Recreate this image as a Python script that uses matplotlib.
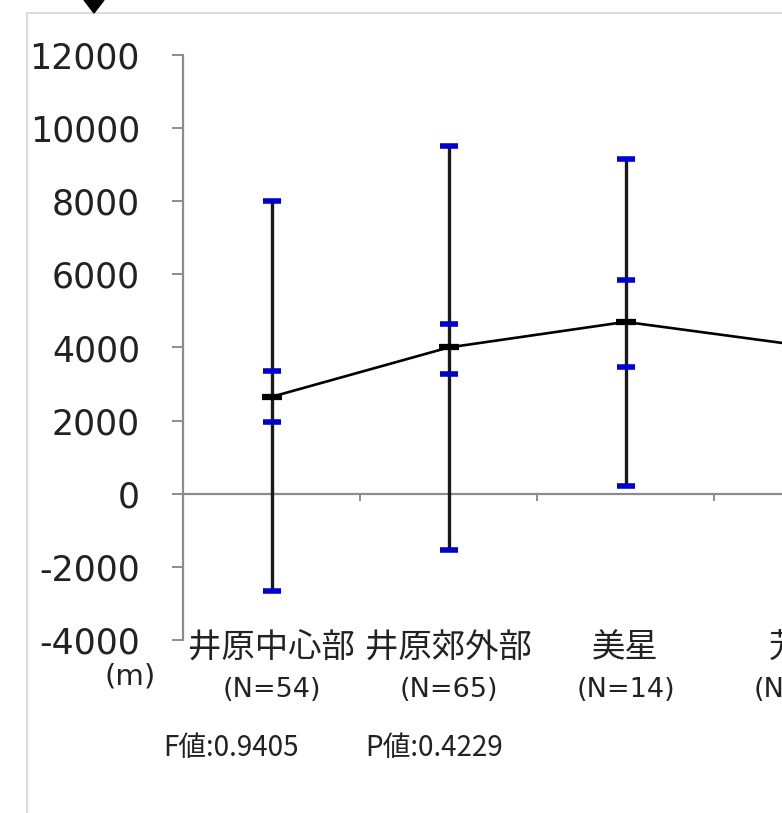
import numpy as np
import matplotlib
matplotlib.use("Agg")
import matplotlib.pyplot as plt
import matplotlib.patches as mpatches

plt.rcParams["axes.unicode_minus"] = False

# ---------------------------------------------------------------------------
# Data
# ---------------------------------------------------------------------------
areas   = ["井原中心部", "井原郊外部", "美星", "芳井"]
n_label = ["(N=54)", "(N=65)", "(N=14)", "(N=20)"]
mean    = [2650, 4000, 4700, 4050]
top     = [8000, 9500, 9150, 7000]
bottom  = [-2650, -1550, 200, 1650]
upper_q = [3370, 4650, 5850, 5050]
lower_q = [1950, 3280, 3480, 3280]
f_text  = "F値:0.9405"
p_text  = "P値:0.4229"
y_ticks = list(range(-4000, 12001, 2000))

W, H = 782, 813
JP = ["Noto Sans CJK JP", "DejaVu Sans"]
GREY = "#8c8c8c"
BLUE = "#0000d0"
TXT = "#222222"

fig = plt.figure(figsize=(W / 100, H / 100), dpi=100)

# screenshot frame + cut-off marker at the top
fig.patches.append(mpatches.Rectangle((27 / W, -0.1), 1.2, 1 - 13 / H + 0.1,
                                      transform=fig.transFigure, fill=False,
                                      edgecolor="#d4d4d4", linewidth=1.2))
fig.patches.append(mpatches.Polygon([(84 / W, 1.0), (104 / W, 1.0), (94 / W, 1 - 13 / H)],
                                    closed=True, transform=fig.transFigure,
                                    facecolor="black", edgecolor="black"))

n_cat = len(areas)
ax = fig.add_axes([183 / W, 1 - 640 / H, 177 * n_cat / W, 585 / H])
x = np.arange(n_cat) + 0.5

# whiskers
ax.vlines(x, bottom, top, color="#1a1a1a", linewidth=2.4, zorder=3)
# blue caps
for vals in (top, bottom, upper_q, lower_q):
    ax.plot(x, vals, linestyle="none", marker="_", markersize=13,
            markeredgewidth=4, color=BLUE, zorder=4)
# mean line + markers
ax.plot(x, mean, color="black", linewidth=1.9, zorder=5)
ax.plot(x, mean, linestyle="none", marker="_", markersize=14,
        markeredgewidth=4.5, color="black", zorder=6)

ax.set_xlim(0, n_cat)
ax.set_ylim(-4000, 12000)

for s in ("top", "right"):
    ax.spines[s].set_visible(False)
ax.spines["left"].set_color(GREY)
ax.spines["left"].set_linewidth(1.6)
ax.spines["bottom"].set_position(("data", 0))
ax.spines["bottom"].set_color(GREY)
ax.spines["bottom"].set_linewidth(1.6)

ax.set_yticks(y_ticks)
ax.set_yticklabels([str(v) for v in y_ticks])
ax.tick_params(axis="y", direction="out", length=8, width=1.4, color=GREY,
               pad=23, labelsize=25, labelcolor=TXT)
ax.set_xticks(np.arange(1, n_cat + 1))
ax.set_xticklabels([])
ax.tick_params(axis="x", direction="out", length=5, width=1.4, color=GREY)

# category labels below the plot area
for xi, name, nl in zip(x, areas, n_label):
    ax.annotate(name, xy=(xi, 0), xycoords=("data", "axes fraction"),
                xytext=(0, -6), textcoords="offset points",
                ha="center", va="center", fontsize=24, family=JP, color=TXT)
    ax.annotate(nl, xy=(xi, 0), xycoords=("data", "axes fraction"),
                xytext=(0, -36), textcoords="offset points",
                ha="center", va="center", fontsize=19.5, family="DejaVu Sans",
                color=TXT)

fig.text(130 / W, 1 - 676 / H, "(m)", ha="center", va="center",
         fontsize=21, color=TXT)
fig.text(163 / W, 1 - 748 / H, f_text, ha="left", va="center",
         fontsize=20, family=JP, color=TXT)
fig.text(365 / W, 1 - 748 / H, p_text, ha="left", va="center",
         fontsize=20, family=JP, color=TXT)

fig.savefig("out.png", dpi=100)
